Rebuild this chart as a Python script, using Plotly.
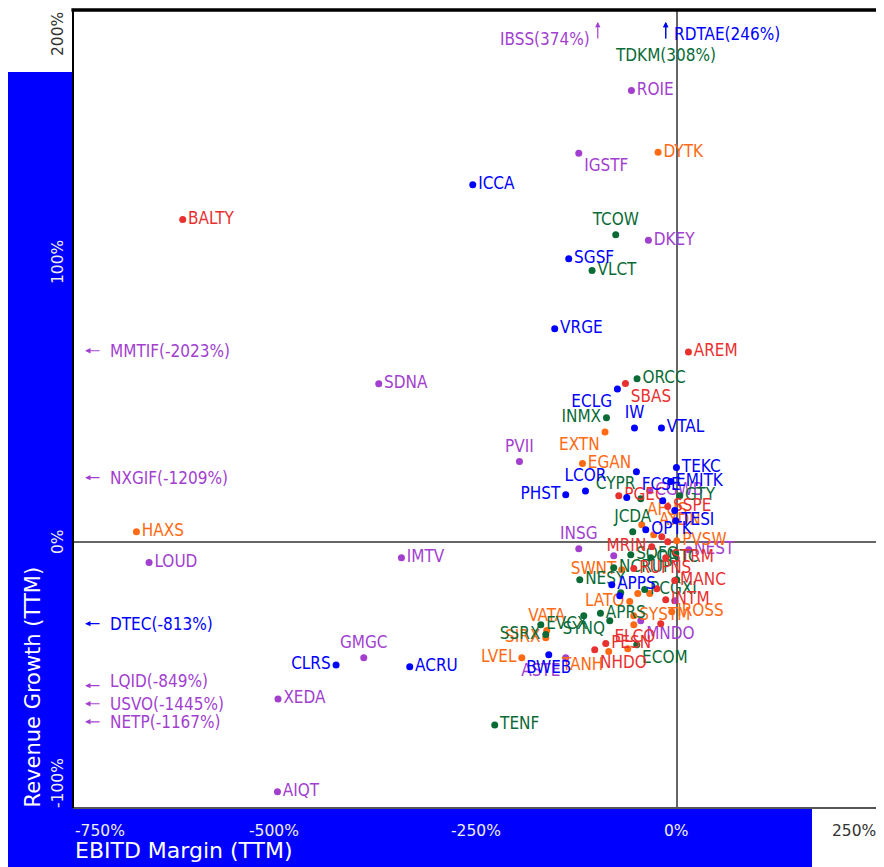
import plotly.graph_objects as go

# ---------------- data ----------------
X_RANGE = [-750, 250]
Y_RANGE = [-100, 200]

X_TICKS = [-750, -500, -250, 0, 250]
X_TICK_LABELS = ["-750%", "-500%", "-250%", "0%", "250%"]
Y_TICKS = [-100, 0, 100, 200]
Y_TICK_LABELS = ["-100%", "0%", "100%", "200%"]

X_TITLE = "EBITD Margin (TTM)"
Y_TITLE = "Revenue Growth (TTM)"

# purple group
P_TICKERS = ["ROIE", "IGSTF", "DKEY", "SDNA", "PVII", "LOUD", "IMTV", "GMGC", "XEDA", "AIQT",
             "INSG", "CGWB", "NEST", "", "MNDO", "ASTE", ""]
P_MARGIN = [-56.3, -121.7, -35.2, -370.2, -195.4, -655.5, -342.0, -388.8, -495.3, -496.0,
            -121.7, -33.5, 14.9, -78.3, -44.7, -137.9, -2.5]
P_GROWTH = [169.7, 146.1, 113.4, 59.5, 30.3, -7.7, -5.9, -43.5, -59.0, -93.9,
            -2.5, 19.3, -2.9, -5.2, -29.6, -43.5, -22.1]

# orange group
O_TICKERS = ["DYTK", "EXTN", "EGAN", "HAXS", "AYDN", "AFUS", "PVSW", "SWNT", "", "",
             "LATO", "SYSTM", "IROSS", "", "VATA", "SIRX", "TANH", "", "LVEL"]
O_MARGIN = [-23.2, -89.1, -117.1, -671.2, -28.6, -43.5, 0.0, -68.3, -48.4, -33.5,
            -58.4, -53.4, -6.2, -53.4, -161.5, -162.7, -84.5, -60.9, -192.5]
O_GROWTH = [146.5, 41.4, 29.5, 3.9, 2.7, 6.5, 0.5, -10.4, -19.4, -19.4,
            -22.4, -27.7, -26.2, -31.1, -33.3, -36.0, -41.2, -40.1, -43.5]

# green group
G_TICKERS = ["TCOW", "VLCT", "ORCC", "INMX", "TENF", "CYPR", "GTY", "JCDA", "SOFO", "ONTC",
             "", "NCRUP", "NESY", "", "", "PCGXI", "APRS", "SYNQ", "", "EVCX", "SSRX", "ECOM"]
G_MARGIN = [-75.8, -105.2, -49.3, -87.3, -226.1, -44.7, 3.7, -54.7, -57.1, -32.3,
            -1.2, -78.3, -120.5, 0.0, -69.6, -39.8, -94.8, -115.5, -83.2, -168.9, -162.7, -49.7]
G_GROWTH = [115.5, 102.1, 61.4, 46.7, -68.8, 16.3, 17.4, 3.9, -4.8, -5.9,
            -4.4, -9.7, -14.2, -14.2, -19.1, -17.9, -26.8, -27.7, -29.6, -31.1, -34.8, -38.6]

# red group
R_TICKERS = ["BALTY", "AREM", "SBAS", "PGEC", "SSPE", "", "", "MRIN", "RUPNS", "STRM",
             "MANC", "", "INTM", "ELCO", "PESN", "NHDO"]
R_MARGIN = [-613.7, 14.5, -63.7, -72.0, -11.2, -18.6, -11.2, -31.1, -53.4, -13.7,
            -2.5, -24.8, -13.7, -19.9, -88.2, -101.9]
R_GROWTH = [121.2, 71.4, 59.6, 17.4, 13.3, 2.0, 0.1, -1.8, -10.0, -5.9,
            -14.5, -17.6, -21.7, -30.7, -38.2, -40.5]

# blue group
B_TICKERS = ["ICCA", "SGSF", "VRGE", "ECLG", "IW", "VTAL", "TEKC", "LCOR", "PHST", "CLRS",
             "ACRU", "FCSE", "EMITK", "", "", "", "TESI", "OPTK", "APPS", "", "BWEB"]
B_MARGIN = [-253.4, -134.2, -151.6, -73.7, -52.5, -19.0, -0.4, -113.4, -137.9, -423.2,
            -331.7, -50.1, -7.5, -62.1, -17.4, -2.5, -1.2, -38.5, -80.7, -70.8, -159.0]
B_GROWTH = [134.3, 106.5, 80.2, 57.5, 42.9, 42.9, 28.0, 19.2, 17.8, -46.2,
            -46.9, 26.4, 22.7, 16.7, 15.5, 11.8, 8.0, 4.6, -16.1, -20.2, -42.4]

# points outside the axis ranges
OFF_TICKERS = ["IBSS", "TDKM", "RDTAE", "MMTIF", "NXGIF", "DTEC", "LQID", "USVO", "NETP"]
OFF_MARGIN = [-98.1, -13.7, -13.7, -2023, -1209, -813, -849, -1445, -1167]
OFF_GROWTH = [374, 308, 246, 71.9, 24.2, -30.7, -54.0, -60.8, -67.6]
OFF_GROUP = ["P", "G", "B", "P", "P", "B", "P", "P", "P"]

# ---------------- style ----------------
COLORS = {"P": "#a23fcf", "O": "#ff6a13", "G": "#0a6b37", "R": "#e8312f", "B": "#0000ff"}
FONT = "DejaVu Sans Condensed, DejaVu Sans, sans-serif"
LBL_SIZE = 17

LABEL_POS = {
    "IGSTF": "bottom right", "PVII": "top center", "GMGC": "top center",
    "INSG": "top center", "ASTE": "bottom left", "MNDO": "bottom right",
    "EXTN": "bottom left", "AYDN": "top right", "AFUS": "top right",
    "SWNT": "middle left", "LATO": "middle left", "VATA": "top center",
    "SIRX": "middle left", "TANH": "bottom left", "LVEL": "middle left",
    "TCOW": "top center", "INMX": "middle left", "CYPR": "top left", "JCDA": "top center",
    "SYNQ": "bottom center", "SSRX": "middle left", "ECOM": "bottom right",
    "SBAS": "bottom right", "MRIN": "middle left", "ELCO": "bottom left", "NHDO": "bottom right",
    "ECLG": "bottom left", "IW": "top center", "LCOR": "top center",
    "PHST": "middle left", "CLRS": "middle left", "FCSE": "bottom right", "BWEB": "bottom center",
}

OFF_LABEL_STYLE = {  # xanchor, xshift, yshift
    "IBSS": ("right", -6, -17), "TDKM": ("center", 0, -33), "RDTAE": ("left", 6, -12),
    "MMTIF": ("left", 23, 0), "NXGIF": ("left", 23, 0), "DTEC": ("left", 23, 0),
    "LQID": ("left", 23, 5), "USVO": ("left", 23, 0), "NETP": ("left", 23, 0),
}

# page offset of the figure (body margin) and figure geometry
OFF = 8
W, H = 876, 859
M_L, M_R, M_T, M_B = 65, 6, 2, 59
PW, PH = W - M_L - M_R, H - M_T - M_B


def px_x(p):  # page pixel -> paper x
    return (p - OFF - M_L) / PW


def px_y(p):  # page pixel -> paper y
    return (H - M_B - (p - OFF)) / PH


fig = go.Figure()

groups = [
    ("P", P_TICKERS, P_MARGIN, P_GROWTH),
    ("O", O_TICKERS, O_MARGIN, O_GROWTH),
    ("G", G_TICKERS, G_MARGIN, G_GROWTH),
    ("R", R_TICKERS, R_MARGIN, R_GROWTH),
    ("B", B_TICKERS, B_MARGIN, B_GROWTH),
]
for key, names, xs, ys in groups:
    fig.add_trace(go.Scatter(
        x=xs, y=ys, mode="markers+text", text=names,
        textposition=[LABEL_POS.get(n, "middle right") for n in names],
        marker=dict(size=7, color=COLORS[key]),
        textfont=dict(family=FONT, size=LBL_SIZE, color=COLORS[key]),
        hoverinfo="skip", showlegend=False, cliponaxis=False,
    ))

annotations = []
inset_x = 0.015 * (X_RANGE[1] - X_RANGE[0])
inset_y = 0.015 * (Y_RANGE[1] - Y_RANGE[0])
for t, xv, yv, g in zip(OFF_TICKERS, OFF_MARGIN, OFF_GROWTH, OFF_GROUP):
    c = COLORS[g]
    if yv > Y_RANGE[1]:
        hx, hy, ax, ay, val = xv, Y_RANGE[1] - inset_y, 0, 18, yv
    else:
        hx, hy, ax, ay, val = X_RANGE[0] + inset_x, yv, 16, 0, xv
    annotations.append(dict(x=hx, y=hy, xref="x", yref="y", text="", showarrow=True,
                            ax=ax, ay=ay, arrowhead=2, arrowsize=0.9, arrowwidth=1.2,
                            arrowcolor=c))
    xa, xs_, ys_ = OFF_LABEL_STYLE[t]
    annotations.append(dict(x=hx, y=hy, xref="x", yref="y", text=f"{t}({val:.0f}%)",
                            showarrow=False, xanchor=xa, yanchor="middle",
                            xshift=xs_, yshift=ys_,
                            font=dict(family=FONT, size=LBL_SIZE, color=c)))

# blue bands behind the axis titles
BAND = "#0000ff"
band_left = dict(x0=px_x(8), x1=px_x(72), y0=px_y(870), y1=px_y(72))
band_bottom = dict(x0=px_x(8), x1=px_x(812), y0=px_y(870), y1=px_y(808))
shapes = []
for b in (band_left, band_bottom):
    shapes.append(dict(type="rect", xref="paper", yref="paper", line=dict(width=0),
                       fillcolor=BAND, layer="below", **b))
# frame
shapes += [
    dict(type="line", xref="paper", yref="paper", x0=0, x1=1, y0=0, y1=0,
         line=dict(color="#555555", width=2)),
    dict(type="line", xref="paper", yref="paper", x0=0, x1=0, y0=0, y1=1,
         line=dict(color="#000000", width=2)),
    dict(type="line", xref="paper", yref="paper", x0=-0.002, x1=1.002, y0=1, y1=1,
         line=dict(color="#000000", width=3.5)),
    dict(type="line", xref="paper", yref="paper", x0=1, x1=1, y0=0, y1=1.002,
         line=dict(color="#000000", width=3.5)),
]


def on_band(px, py):
    if 8 <= px <= 72 and py >= 72:
        return True
    if 8 <= px <= 812 and py >= 808:
        return True
    return False


TICK_SIZE = 15.5
for i, (v, lab) in enumerate(zip(X_TICKS, X_TICK_LABELS)):
    xa = "left" if i == 0 else ("right" if i == len(X_TICKS) - 1 else "center")
    pxv = OFF + M_L + (v - X_RANGE[0]) / (X_RANGE[1] - X_RANGE[0]) * PW
    col = "#eeeeee" if on_band(pxv, 829) else "#333333"
    annotations.append(dict(x=v, y=0, xref="x", yref="paper", text=lab, showarrow=False,
                            xanchor=xa, yanchor="middle", yshift=-23,
                            font=dict(family="DejaVu Sans", size=TICK_SIZE, color=col)))

Y_TICK_SHIFT = {100: 14}
for i, (v, lab) in enumerate(zip(Y_TICKS, Y_TICK_LABELS)):
    ya = "bottom" if i == 0 else ("top" if i == len(Y_TICKS) - 1 else "middle")
    pyv = OFF + M_T + (Y_RANGE[1] - v) / (Y_RANGE[1] - Y_RANGE[0]) * PH
    col = "#eeeeee" if on_band(58, pyv + (20 if i == len(Y_TICKS) - 1 else 0)) else "#333333"
    annotations.append(dict(x=0, y=v, xref="paper", yref="y", text=lab, showarrow=False,
                            xanchor="center", yanchor=ya, xshift=-15, textangle=-90,
                            yshift=Y_TICK_SHIFT.get(v, 0) + (-2 if i == 0 else 0),
                            font=dict(family="DejaVu Sans", size=TICK_SIZE, color=col)))

annotations.append(dict(x=0, y=px_y(851), xref="paper", yref="paper", text=X_TITLE,
                        showarrow=False, xanchor="left", yanchor="middle",
                        font=dict(family="DejaVu Sans", size=22, color="#ffffff")))
annotations.append(dict(x=px_x(32), y=0, xref="paper", yref="paper", text=Y_TITLE,
                        showarrow=False, xanchor="center", yanchor="bottom", yshift=-2,
                        textangle=-90,
                        font=dict(family="DejaVu Sans", size=21, color="#ffffff")))

fig.update_layout(
    width=W, height=H,
    margin=dict(l=M_L, r=M_R, t=M_T, b=M_B, pad=0),
    paper_bgcolor="#ffffff", plot_bgcolor="#ffffff",
    xaxis=dict(range=X_RANGE, showgrid=False, showticklabels=False, ticks="",
               zeroline=True, zerolinecolor="#666666", zerolinewidth=1.5, showline=False),
    yaxis=dict(range=Y_RANGE, showgrid=False, showticklabels=False, ticks="",
               zeroline=True, zerolinecolor="#666666", zerolinewidth=1.5, showline=False),
    shapes=shapes, annotations=annotations, showlegend=False,
)

fig.write_html("out.html")
